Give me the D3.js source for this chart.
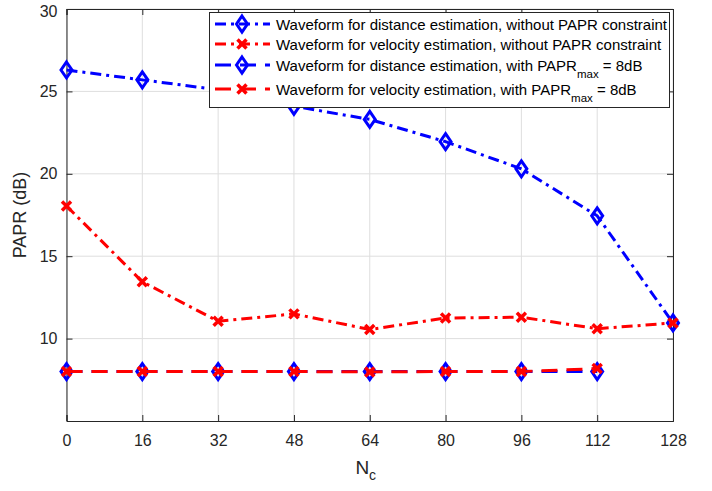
<!DOCTYPE html>
<html>
<head>
<meta charset="utf-8">
<script src="https://d3js.org/d3.v7.min.js"></script>
<style>
  body { margin: 0; background: #fff; }
  svg { font-family: "Liberation Sans", Arial, Helvetica, sans-serif; }
  .tick text { fill: #262626; font-size: 16px; }
</style>
</head>
<body>
<svg id="chart" width="712" height="491"></svg>
<script>
// x values (N_c)
var nc = [0, 16, 32, 48, 64, 80, 96, 112, 128];
var ncCon = [0, 16, 32, 48, 64, 80, 96, 112];
// PAPR in dB
var distNoCon = [26.3, 25.7, 25.1, 24.1, 23.3, 21.95, 20.3, 17.45, 10.95];
var velNoCon = [18.05, 13.45, 11.05, 11.5, 10.55, 11.25, 11.3, 10.6, 10.95];
var distCon = [8, 8, 8, 8, 8, 8, 8, 8];
var velCon = [8, 8, 8, 8, 7.98, 8, 8, 8.18];

var xTicks = [0, 16, 32, 48, 64, 80, 96, 112, 128];
var yTicks = [10, 15, 20, 25, 30];

var W = 712, H = 491;
var m = {left: 66.5, right: 39, top: 9, bottom: 70};
var svg = d3.select("#chart");

var x = d3.scaleLinear().domain([0, 128]).range([m.left, W - m.right]);
var y = d3.scaleLinear().domain([5, 30]).range([H - m.bottom, m.top]);

var axisCol = "#262626", gridCol = "#dedede";

// grid
svg.append("g").selectAll("line").data(xTicks).join("line")
    .attr("x1", d => x(d)).attr("x2", d => x(d))
    .attr("y1", y(5)).attr("y2", y(30))
    .attr("stroke", gridCol).attr("stroke-width", 1);
svg.append("g").selectAll("line").data(yTicks).join("line")
    .attr("x1", x(0)).attr("x2", x(128))
    .attr("y1", d => y(d)).attr("y2", d => y(d))
    .attr("stroke", gridCol).attr("stroke-width", 1);

// axes (ticks inward)
var gx = svg.append("g").attr("transform", "translate(0," + y(5) + ")")
    .call(d3.axisBottom(x).tickValues(xTicks).tickSize(-6).tickPadding(14));
var gy = svg.append("g").attr("transform", "translate(" + x(0) + ",0)")
    .call(d3.axisLeft(y).tickValues(yTicks).tickSize(-6).tickPadding(9));
var gxt = svg.append("g").attr("transform", "translate(0," + y(30) + ")")
    .call(d3.axisTop(x).tickValues(xTicks).tickSize(-6).tickFormat(""));
var gyr = svg.append("g").attr("transform", "translate(" + x(128) + ",0)")
    .call(d3.axisRight(y).tickValues(yTicks).tickSize(-6).tickFormat(""));
[gx, gy, gxt, gyr].forEach(function(g) {
    g.selectAll("path.domain").attr("stroke", axisCol);
    g.selectAll(".tick line").attr("stroke", axisCol);
    g.selectAll(".tick text").attr("font-family", null).attr("font-size", null);
});
gy.select(".tick:last-of-type text").attr("dy", "0.45em");

// axis labels
svg.append("text")
    .attr("transform", "translate(26," + ((y(5) + y(30)) / 2) + ") rotate(-90)")
    .attr("text-anchor", "middle").attr("font-size", 18).attr("fill", axisCol)
    .text("PAPR (dB)");
var xl = svg.append("text")
    .attr("x", (x(0) + x(128)) / 2 - 4).attr("y", 474)
    .attr("text-anchor", "middle").attr("font-size", 19).attr("fill", axisCol);
xl.append("tspan").text("N");
xl.append("tspan").attr("font-size", 14).attr("dy", 6).text("c");

var dashDot = "11,5,3,5", dashed = "16,9";
var series = [
    {xs: nc, ys: distNoCon, color: "#0000ff", dash: dashDot, marker: "d"},
    {xs: nc, ys: velNoCon, color: "#ff0000", dash: dashDot, marker: "x"},
    {xs: ncCon, ys: distCon, color: "#0000ff", dash: dashed, marker: "d"},
    {xs: ncCon, ys: velCon, color: "#ff0000", dash: dashed, marker: "x"}
];

var line = d3.line().x(d => x(d[0])).y(d => y(d[1]));

function drawMarker(g, px, py, s) {
    if (s.marker === "d") {
        g.append("path")
            .attr("d", "M0,-8L5.5,0L0,8L-5.5,0Z")
            .attr("transform", "translate(" + px + "," + py + ")")
            .attr("fill", "none").attr("stroke", s.color).attr("stroke-width", 3);
    } else {
        g.append("path")
            .attr("d", "M-4.5,-4.5L4.5,4.5M-4.5,4.5L4.5,-4.5")
            .attr("transform", "translate(" + px + "," + py + ")")
            .attr("fill", "none").attr("stroke", s.color).attr("stroke-width", 3.5);
    }
}

series.forEach(function(s) {
    var pts = s.xs.map((v, i) => [v, s.ys[i]]);
    var g = svg.append("g");
    g.append("path").attr("d", line(pts))
        .attr("fill", "none").attr("stroke", s.color)
        .attr("stroke-width", 3).attr("stroke-dasharray", s.dash);
    pts.forEach(p => drawMarker(g, x(p[0]), y(p[1]), s));
});

// legend
var lg = svg.append("g");
lg.append("rect").attr("x", 209.5).attr("y", 12.5).attr("width", 460).attr("height", 95)
    .attr("fill", "#fff").attr("stroke", axisCol).attr("stroke-width", 1);
var rowsY = [24, 44, 65, 89];
var labels = [
    ["Waveform for distance estimation, without PAPR constraint"],
    ["Waveform for velocity estimation, without PAPR constraint"],
    ["Waveform for distance estimation, with PAPR", "max", " = 8dB"],
    ["Waveform for velocity estimation, with PAPR", "max", " = 8dB"]
];
series.forEach(function(s, i) {
    var ry = rowsY[i];
    lg.append("line").attr("x1", 215).attr("x2", 270).attr("y1", ry).attr("y2", ry)
        .attr("stroke", s.color).attr("stroke-width", 3).attr("stroke-dasharray", s.dash);
    drawMarker(lg, 242, ry, s);
    var t = lg.append("text").attr("x", 276).attr("y", ry + 5.5)
        .attr("font-size", 15).attr("fill", "#000");
    t.append("tspan").text(labels[i][0]);
    if (labels[i].length > 1) {
        t.append("tspan").attr("font-size", 11.5).attr("dy", 7).text(labels[i][1]);
        t.append("tspan").attr("dy", -7).text(labels[i][2]);
    }
});
</script>
</body>
</html>
